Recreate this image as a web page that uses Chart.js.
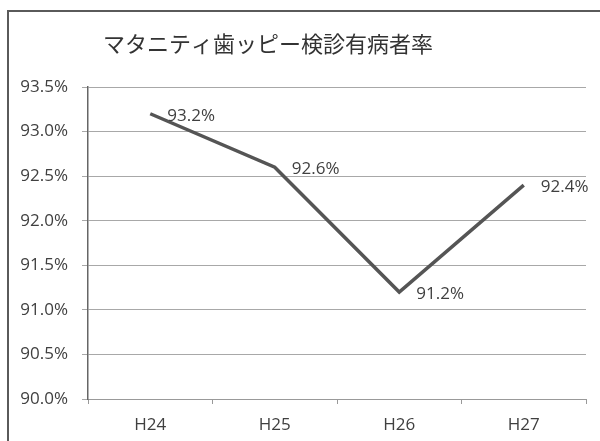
<!DOCTYPE html>
<html>
<head>
<meta charset="utf-8">
<script src="https://cdn.jsdelivr.net/npm/chart.js@4"></script>
<style>
  html, body { margin: 0; padding: 0; background: #fff; }
  #wrap { width: 600px; height: 441px; position: relative; }
</style>
</head>
<body>
<div id="wrap"><canvas id="chart"></canvas></div>
<script>
// ── Data ─────────────────────────────────────────────────────
const titleText  = 'マタニティ歯ッピー検診有病者率';
const categories = ['H24', 'H25', 'H26', 'H27'];
const rates      = [93.2, 92.6, 91.2, 92.4];
const yTicks     = [90.0, 90.5, 91.0, 91.5, 92.0, 92.5, 93.0, 93.5];

const FONT = '"Open Sans", "Noto Sans CJK JP", sans-serif';

// ── Frame + title ────────────────────────────────────────────
const framePlugin = {
  id: 'frame',
  beforeDraw(chart) {
    const ctx = chart.ctx;
    ctx.save();
    ctx.strokeStyle = '#5a5a5a';
    ctx.lineWidth = 2;
    ctx.beginPath();
    ctx.moveTo(8, 441);
    ctx.lineTo(8, 11);
    ctx.lineTo(600, 11);
    ctx.stroke();
    ctx.fillStyle = '#333';
    ctx.font = '22px "Noto Sans CJK JP", sans-serif';
    ctx.textAlign = 'center';
    ctx.textBaseline = 'middle';
    ctx.fillText(titleText, 268, 44);
    ctx.restore();
  }
};

// ── Value labels ─────────────────────────────────────────────
const labelPlugin = {
  id: 'valueLabels',
  afterDatasetsDraw(chart) {
    const ctx  = chart.ctx;
    const meta = chart.getDatasetMeta(0);
    ctx.save();
    ctx.fillStyle = '#404040';
    ctx.font = '17px ' + FONT;
    ctx.textAlign = 'left';
    ctx.textBaseline = 'middle';
    meta.data.forEach((pt, i) => {
      ctx.fillText(rates[i].toFixed(1) + '%', pt.x + 17, pt.y + 2);
    });
    ctx.restore();
  }
};

new Chart(document.getElementById('chart'), {
  type: 'line',
  data: {
    labels: categories,
    datasets: [{
      data: rates,
      borderColor: '#555',
      borderWidth: 3.5,
      pointRadius: 0,
      tension: 0,
    }]
  },
  options: {
    responsive: true,
    maintainAspectRatio: false,
    animation: false,
    layout: { padding: { top: 87, right: 14, bottom: 0, left: 0 } },
    plugins: { legend: { display: false }, tooltip: { enabled: false } },
    scales: {
      x: {
        offset: true,
        afterFit: axis => { axis.height = 42; },
        grid: { offset: true, drawOnChartArea: false, tickLength: 5, color: '#999' },
        border: { color: '#999' },
        ticks: { color: '#404040', font: { family: FONT, size: 17 }, padding: 11 },
      },
      y: {
        min: yTicks[0],
        max: yTicks[yTicks.length - 1],
        afterBuildTicks: axis => { axis.ticks = yTicks.map(v => ({ value: v })); },
        afterFit: axis => { axis.width = 88; },
        grid: { color: '#a8a8a8', tickLength: 6 },
        border: { color: '#666', width: 1.5 },
        ticks: {
          color: '#404040',
          font: { family: FONT, size: 17 },
          padding: 14,
          callback: v => v.toFixed(1) + '%',
        },
      }
    }
  },
  plugins: [framePlugin, labelPlugin]
});
</script>
</body>
</html>
